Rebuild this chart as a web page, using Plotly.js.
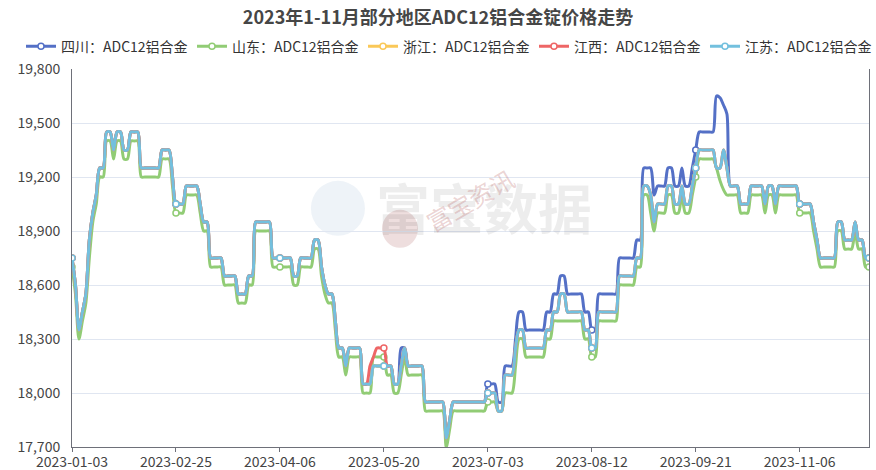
<!DOCTYPE html>
<html><head><meta charset="utf-8">
<script src="https://cdn.plot.ly/plotly-3.0.1.min.js"></script>
<style>html,body{margin:0;padding:0;background:#fff}#chart{width:876px;height:470px}</style>
</head><body><div id="chart"></div>
<script>
const tickLabels = ['2023-01-03','2023-02-25','2023-04-06','2023-05-20','2023-07-03','2023-08-12','2023-09-21','2023-11-06'];
const tickIndex = [0,30,60,90,120,150,180,210];
const markerIndex = [0,30,60,90,120,150,180,210,230];
const seriesNames = ['四川：ADC12铝合金','山东：ADC12铝合金','浙江：ADC12铝合金','江西：ADC12铝合金','江苏：ADC12铝合金'];

const sichuan = [
18750,18600,18350,18450,18550,18850,19000,19100,19250,19250,
19450,19450,19350,19450,19450,19350,19350,19450,19450,19450,
19250,19250,19250,19250,19250,19250,19350,19350,19350,19200,
19050,19050,19050,19150,19150,19150,19150,19050,18950,18950,
18750,18750,18750,18750,18650,18650,18650,18650,18550,18550,
18550,18650,18650,18950,18950,18950,18950,18950,18750,18750,
18750,18750,18750,18750,18650,18650,18750,18750,18750,18750,
18850,18850,18700,18600,18550,18550,18400,18250,18250,18150,
18250,18250,18250,18250,18050,18050,18050,18150,18150,18150,
18150,18150,18150,18050,18050,18250,18250,18150,18150,18150,
18150,18150,17950,17950,17950,17950,17950,17950,17750,17850,
17950,17950,17950,17950,17950,17950,17950,17950,17950,17950,
18050,18050,18050,17950,17950,18150,18150,18150,18300,18450,
18450,18350,18350,18350,18350,18350,18350,18450,18450,18550,
18550,18650,18650,18550,18550,18550,18550,18550,18450,18450,
18350,18350,18550,18550,18550,18550,18550,18550,18750,18750,
18750,18750,18750,18850,18850,19250,19250,19250,19100,19150,
19150,19150,19250,19250,19150,19150,19250,19150,19150,19250,
19350,19450,19450,19450,19450,19450,19650,19640,19600,19550,
19150,19150,19150,19050,19050,19050,19150,19150,19150,19150,
19050,19150,19150,19050,19150,19150,19150,19150,19150,19150,
19050,19050,19050,19050,18950,18850,18750,18750,18750,18750,
18750,18950,18950,18850,18850,18850,18950,18850,18850,18750,18750];

const shandong = [
18700,18550,18300,18400,18500,18750,18950,19050,19200,19200,
19400,19400,19300,19400,19400,19300,19300,19400,19400,19400,
19200,19200,19200,19200,19200,19200,19300,19300,19300,19150,
19000,19000,19000,19100,19100,19100,19100,19000,18900,18900,
18700,18700,18700,18700,18600,18600,18600,18600,18500,18500,
18500,18600,18600,18900,18900,18900,18900,18900,18700,18700,
18700,18700,18700,18700,18600,18600,18700,18700,18700,18700,
18800,18800,18650,18550,18500,18500,18350,18200,18200,18100,
18200,18200,18200,18200,18000,18000,18000,18200,18200,18200,
18200,18100,18100,18000,18000,18100,18200,18100,18100,18100,
18100,18100,17900,17900,17900,17900,17900,17900,17700,17800,
17900,17900,17900,17900,17900,17900,17900,17900,17900,17900,
17950,17950,17950,17900,17900,18000,18000,18000,18150,18300,
18300,18200,18200,18200,18200,18200,18200,18300,18300,18400,
18400,18400,18400,18400,18400,18400,18400,18400,18300,18300,
18200,18200,18400,18400,18400,18400,18400,18400,18600,18600,
18600,18600,18600,18700,18700,19100,19100,19000,18900,19000,
19000,19000,19100,19100,19000,19000,19100,19000,19000,19100,
19200,19300,19300,19300,19300,19300,19250,19180,19130,19100,
19100,19100,19100,19000,19000,19000,19100,19100,19100,19100,
19000,19100,19100,19000,19100,19100,19100,19100,19100,19100,
19000,19000,19000,19000,18900,18800,18700,18700,18700,18700,
18700,18900,18900,18800,18800,18800,18900,18800,18800,18700,18700];

const zhejiang = [
18750,18600,18350,18450,18550,18850,19000,19100,19250,19250,
19450,19450,19350,19450,19450,19350,19350,19450,19450,19450,
19250,19250,19250,19250,19250,19250,19350,19350,19350,19200,
19050,19050,19050,19150,19150,19150,19150,19050,18950,18950,
18750,18750,18750,18750,18650,18650,18650,18650,18550,18550,
18550,18650,18650,18950,18950,18950,18950,18950,18750,18750,
18750,18750,18750,18750,18650,18650,18750,18750,18750,18750,
18850,18850,18700,18600,18550,18550,18400,18250,18250,18150,
18250,18250,18250,18250,18050,18050,18050,18150,18150,18150,
18150,18150,18150,18050,18050,18150,18250,18150,18150,18150,
18150,18150,17950,17950,17950,17950,17950,17950,17750,17850,
17950,17950,17950,17950,17950,17950,17950,17950,17950,17950,
18000,18000,18000,17900,17900,18100,18100,18100,18250,18350,
18350,18250,18250,18250,18250,18250,18250,18350,18350,18450,
18450,18550,18550,18450,18450,18450,18450,18450,18350,18350,
18250,18250,18450,18450,18450,18450,18450,18450,18650,18650,
18650,18650,18650,18750,18750,19150,19150,19100,18950,19050,
19050,19050,19150,19150,19050,19050,19150,19050,19050,19150,
19250,19350,19350,19350,19350,19350,19250,19250,19350,19250,
19150,19150,19150,19050,19050,19050,19150,19150,19150,19150,
19050,19150,19150,19050,19150,19150,19150,19150,19150,19150,
19050,19050,19050,19050,18950,18850,18750,18750,18750,18750,
18750,18950,18950,18850,18850,18850,18950,18850,18850,18750,18750];

const jiangxi = [
18750,18600,18350,18450,18550,18850,19000,19100,19250,19250,
19450,19450,19350,19450,19450,19350,19350,19450,19450,19450,
19250,19250,19250,19250,19250,19250,19350,19350,19350,19200,
19050,19050,19050,19150,19150,19150,19150,19050,18950,18950,
18750,18750,18750,18750,18650,18650,18650,18650,18550,18550,
18550,18650,18650,18950,18950,18950,18950,18950,18750,18750,
18750,18750,18750,18750,18650,18650,18750,18750,18750,18750,
18850,18850,18700,18600,18550,18550,18400,18250,18250,18150,
18250,18250,18250,18250,18050,18050,18150,18200,18250,18250,
18250,18150,18150,18050,18050,18150,18250,18150,18150,18150,
18150,18150,17950,17950,17950,17950,17950,17950,17750,17850,
17950,17950,17950,17950,17950,17950,17950,17950,17950,17950,
18000,18000,18000,17900,17900,18100,18100,18100,18250,18350,
18350,18250,18250,18250,18250,18250,18250,18350,18350,18450,
18450,18550,18550,18450,18450,18450,18450,18450,18350,18350,
18250,18250,18450,18450,18450,18450,18450,18450,18650,18650,
18650,18650,18650,18750,18750,19150,19150,19100,18950,19050,
19050,19050,19150,19150,19050,19050,19150,19050,19050,19150,
19250,19350,19350,19350,19350,19350,19250,19250,19350,19250,
19150,19150,19150,19050,19050,19050,19150,19150,19150,19150,
19050,19150,19150,19050,19150,19150,19150,19150,19150,19150,
19050,19050,19050,19050,18950,18850,18750,18750,18750,18750,
18750,18950,18950,18850,18850,18850,18950,18850,18850,18750,18750];

const jiangsu = [
18750,18600,18350,18450,18550,18850,19000,19100,19250,19250,
19450,19450,19350,19450,19450,19350,19350,19450,19450,19450,
19250,19250,19250,19250,19250,19250,19350,19350,19350,19200,
19050,19050,19050,19150,19150,19150,19150,19050,18950,18950,
18750,18750,18750,18750,18650,18650,18650,18650,18550,18550,
18550,18650,18650,18950,18950,18950,18950,18950,18750,18750,
18750,18750,18750,18750,18650,18650,18750,18750,18750,18750,
18850,18850,18700,18600,18550,18550,18400,18250,18250,18150,
18250,18250,18250,18250,18050,18050,18050,18150,18150,18150,
18150,18150,18150,18050,18050,18150,18250,18150,18150,18150,
18150,18150,17950,17950,17950,17950,17950,17950,17750,17850,
17950,17950,17950,17950,17950,17950,17950,17950,17950,17950,
18000,18000,18000,17900,17900,18100,18100,18100,18250,18350,
18350,18250,18250,18250,18250,18250,18250,18350,18350,18450,
18450,18550,18550,18450,18450,18450,18450,18450,18350,18350,
18250,18250,18450,18450,18450,18450,18450,18450,18650,18650,
18650,18650,18650,18750,18750,19150,19150,19100,18950,19050,
19050,19050,19150,19150,19050,19050,19150,19050,19050,19150,
19250,19350,19350,19350,19350,19350,19250,19250,19350,19250,
19150,19150,19150,19050,19050,19050,19150,19150,19150,19150,
19050,19150,19150,19050,19150,19150,19150,19150,19150,19150,
19050,19050,19050,19050,18950,18850,18750,18750,18750,18750,
18750,18950,18950,18850,18850,18850,18950,18850,18850,18750,18750];

const seriesValues = [sichuan, shandong, zhejiang, jiangxi, jiangsu];
const colors = ['#5470c6','#91cc75','#fac858','#ee6666','#73c0de'];
const FONT = '"Microsoft YaHei","Noto Sans CJK SC","Noto Sans",sans-serif';

const traces = seriesValues.map((vals, k) => {
  const xs = vals.map((_, i) => i);
  const isM = xs.map(i => markerIndex.includes(i));
  return {
    type: 'scatter', mode: 'lines+markers', name: seriesNames[k],
    x: xs, y: vals,
    line: {color: colors[k], width: 3, shape: 'spline', smoothing: 0.8},
    marker: {
      size: 6, symbol: 'circle',
      color: isM.map(m => m ? '#ffffff' : 'rgba(0,0,0,0)'),
      line: {width: 1.5, color: isM.map(m => m ? colors[k] : 'rgba(0,0,0,0)')}
    },
    hoverinfo: 'y+name'
  };
});

const L = 72.3, R = 868.6, T = 69.3, B = 447;
const px = v => (v - L) / (R - L);
const py = v => (B - v) / (B - T);

const layout = {
  width: 876, height: 470,
  margin: {l: L, r: 876 - R, t: T, b: 470 - B, pad: 0},
  paper_bgcolor: '#fff', plot_bgcolor: '#fff',
  font: {family: FONT, color: '#333', size: 13},
  title: {text: '<b>2023年1-11月部分地区ADC12铝合金锭价格走势</b>', x: 0.5, xanchor: 'center',
          y: 1 - 18/470, yref: 'container', yanchor: 'middle',
          font: {family: FONT, size: 18, color: '#464646'}},
  showlegend: true,
  legend: {orientation: 'h', xref: 'paper', x: px(25), xanchor: 'left',
           yref: 'paper', y: py(47), yanchor: 'middle',
           font: {family: FONT, size: 14, color: '#333'}, itemwidth: 30,
           entrywidth: 126, entrywidthmode: 'pixels', traceorder: 'normal',
           bgcolor: 'rgba(0,0,0,0)'},
  xaxis: {
    range: [0, 230], tickmode: 'array', tickvals: tickIndex, ticktext: tickLabels,
    showgrid: false, zeroline: false, showline: true, linecolor: '#6E7079', linewidth: 1,
    ticks: 'outside', ticklen: 4, tickcolor: '#6E7079', ticklabelstandoff: -2,
    tickfont: {family: FONT, size: 14, color: '#444'}, fixedrange: true
  },
  yaxis: {
    range: [17700, 19800], tickmode: 'array',
    tickvals: [17700,18000,18300,18600,18900,19200,19500,19800],
    tickformat: ',d', showgrid: true, gridcolor: '#E0E6F1', gridwidth: 1,
    zeroline: false, showline: true, linecolor: '#6E7079', linewidth: 1, mirror: true,
    ticks: '', ticklabelstandoff: 8,
    tickfont: {family: FONT, size: 14, color: '#444'}, fixedrange: true
  },
  shapes: [
    {type: 'circle', xref: 'paper', yref: 'paper', layer: 'below',
     x0: px(311), x1: px(365), y0: py(236), y1: py(181),
     fillcolor: 'rgba(205,222,236,0.35)', line: {width: 0}},
    {type: 'circle', xref: 'paper', yref: 'paper', layer: 'below',
     x0: px(382), x1: px(418), y0: py(248), y1: py(210),
     fillcolor: 'rgba(205,160,160,0.35)', line: {width: 0}}
  ],
  annotations: [
    {text: '<b>富宝数据</b>', xref: 'paper', yref: 'paper', x: px(484), y: py(207),
     showarrow: false, font: {family: FONT, size: 54, color: 'rgba(0,0,0,0.07)'}},
    {text: '富宝资讯', xref: 'paper', yref: 'paper', x: px(470), y: py(200),
     showarrow: false, textangle: -30, font: {family: FONT, size: 24, color: 'rgba(190,110,110,0.30)'}}
  ]
};

Plotly.newPlot('chart', traces, layout, {displayModeBar: false, staticPlot: true});
</script></body></html>
